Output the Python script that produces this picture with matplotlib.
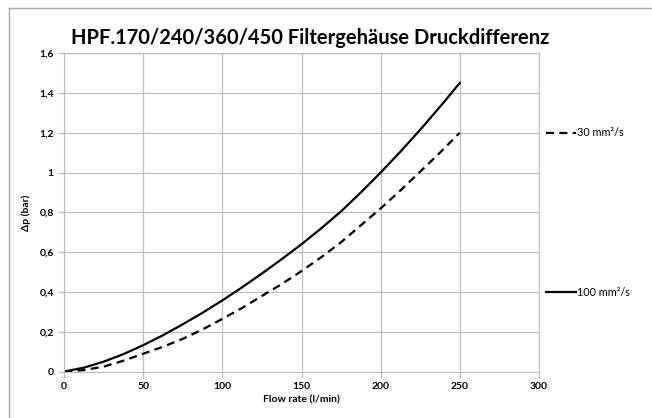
import matplotlib.pyplot as plt
from matplotlib.lines import Line2D
from matplotlib.ticker import FuncFormatter

# Werte (alle 12,5 l/min)
flow = [0, 12.5, 25, 37.5, 50, 62.5, 75, 87.5, 100, 112.5, 125,
        137.5, 150, 162.5, 175, 187.5, 200, 212.5, 225, 237.5, 250]
dp_solid = [0, 0.02, 0.05, 0.088, 0.133, 0.183, 0.238, 0.296, 0.358, 0.424, 0.493,
            0.565, 0.640, 0.720, 0.805, 0.900, 1.0, 1.105, 1.215, 1.33, 1.45]
dp_dashed = [0, 0.008, 0.025, 0.055, 0.09, 0.125, 0.165, 0.212, 0.265, 0.32, 0.38,
             0.44, 0.505, 0.575, 0.65, 0.735, 0.82, 0.91, 1.005, 1.1, 1.2]
label_solid = "100 mm²/s"
label_dashed = "30 mm²/s"

plt.rcParams['font.family'] = ['Lato', 'DejaVu Sans']

fig = plt.figure(figsize=(6.52, 4.18), dpi=100)
ax = fig.add_axes([0.0985, 0.111, 0.728, 0.762])

ax.plot(flow, dp_dashed, color="black", lw=1.6, ls=(0, (3.6, 2.4)))
ax.plot(flow, dp_solid, color="black", lw=1.6)

ax.set_xlim(0, 300)
ax.set_ylim(0, 1.6)
ax.set_xticks(range(0, 301, 50))
ax.set_yticks([0, 0.2, 0.4, 0.6, 0.8, 1.0, 1.2, 1.4, 1.6])
ax.yaxis.set_major_formatter(FuncFormatter(lambda v, p: f"{v:g}".replace(".", ",")))
ax.grid(True, color="#bfbfbf", lw=0.9)
ax.set_axisbelow(True)
for s in ax.spines.values():
    s.set_color("#bfbfbf")
ax.tick_params(colors="#bfbfbf", labelcolor="black", length=4, width=0.9)
for lab in ax.get_xticklabels() + ax.get_yticklabels():
    lab.set_fontweight("bold")
    lab.set_fontsize(7.5)

ax.set_xlabel("Flow rate (l/min)", fontsize=7.5, fontweight="bold", labelpad=3)
ax.set_ylabel("Δp (bar)", fontsize=7.5, fontweight="bold", labelpad=6)
fig.text(0.475, 0.909, "HPF.170/240/360/450 Filtergehäuse Druckdifferenz",
         ha="center", va="center", fontsize=14.5, fontweight="bold")

# Legendeneinträge rechts neben der Grafik
h1 = Line2D([], [], color="black", lw=1.6, ls=(0, (3.6, 2.4)))
h2 = Line2D([], [], color="black", lw=1.6)
fig.legend([h1], [label_dashed], loc="center left", bbox_to_anchor=(0.822, 0.682),
           frameon=False, fontsize=7.8, handlelength=2.8, handletextpad=0.1)
fig.legend([h2], [label_solid], loc="center left", bbox_to_anchor=(0.822, 0.301),
           frameon=False, fontsize=7.8, handlelength=2.8, handletextpad=0.1)

# Rahmen oben und links
fig.add_artist(Line2D([9 / 652, 9 / 652], [0, 1 - 8 / 418], color="#a6a6a6", lw=1))
fig.add_artist(Line2D([9 / 652, 1], [1 - 8 / 418, 1 - 8 / 418], color="#a6a6a6", lw=1))

fig.savefig("out.png", dpi=100)
